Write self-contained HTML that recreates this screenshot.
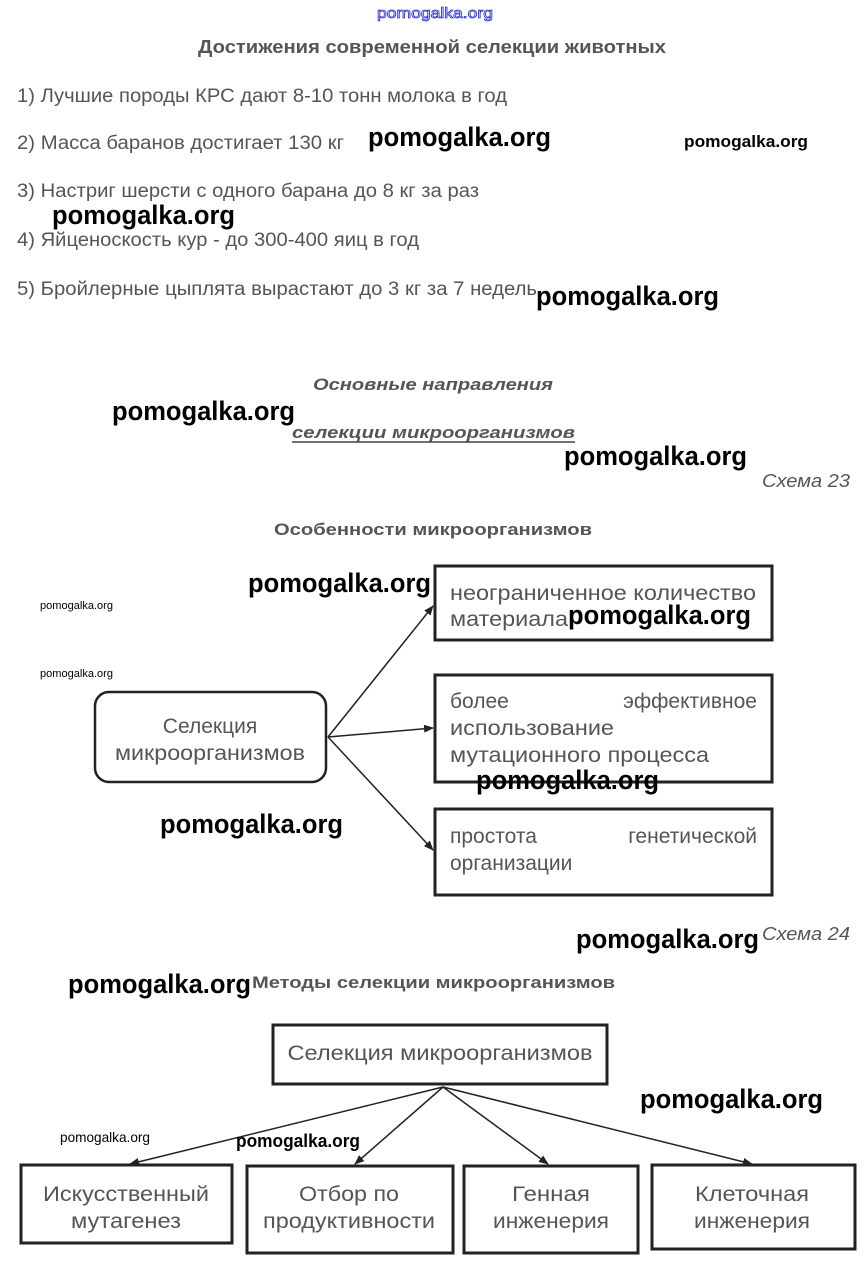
<!DOCTYPE html>
<html><head><meta charset="utf-8"><style>
html,body{margin:0;padding:0;background:#fff;}
svg{display:block;}
.t{font-family:"Liberation Sans",sans-serif;fill:#555;}
.w{font-family:"Liberation Sans",sans-serif;fill:#000;font-weight:bold;}
</style></head><body>
<svg width="866" height="1265" viewBox="0 0 866 1265" xmlns="http://www.w3.org/2000/svg">
<defs><marker id="a" markerWidth="10" markerHeight="10" refX="9" refY="5" orient="auto" markerUnits="userSpaceOnUse"><path d="M0,1 L10,5 L0,9 z" fill="#222"/></marker></defs>
<text x="435" y="18" text-anchor="middle" font-family="Liberation Sans,sans-serif" font-size="15" fill="#fff" stroke="#3333cc" stroke-width="0.8" textLength="116" lengthAdjust="spacingAndGlyphs">pomogalka.org</text>
<text x="432" y="53" text-anchor="middle" class="t" font-size="18" font-weight="bold" fill="#444" textLength="468" lengthAdjust="spacingAndGlyphs">Достижения современной селекции животных</text>
<g class="t" font-size="19">
<text x="17" y="102" textLength="490" lengthAdjust="spacingAndGlyphs">1) Лучшие породы КРС дают 8-10 тонн молока в год</text>
<text x="17" y="149" textLength="327" lengthAdjust="spacingAndGlyphs">2) Масса баранов достигает 130 кг</text>
<text x="17" y="197" textLength="462" lengthAdjust="spacingAndGlyphs">3) Настриг шерсти с одного барана до 8 кг за раз</text>
<text x="17" y="246" textLength="402" lengthAdjust="spacingAndGlyphs">4) Яйценоскость кур - до 300-400 яиц в год</text>
<text x="17" y="295" textLength="520" lengthAdjust="spacingAndGlyphs">5) Бройлерные цыплята вырастают до 3 кг за 7 недель</text>
</g>
<text x="433" y="390" text-anchor="middle" class="t" font-size="17" font-weight="bold" font-style="italic" fill="#444" textLength="240" lengthAdjust="spacingAndGlyphs">Основные направления</text>
<text x="292" y="438" class="t" font-size="17" font-weight="bold" font-style="italic" fill="#444" textLength="283" lengthAdjust="spacingAndGlyphs">селекции микроорганизмов</text>
<line x1="292" y1="442" x2="575" y2="442" stroke="#444" stroke-width="1.5"/>
<text x="762" y="487" class="t" font-size="18" font-style="italic" textLength="88" lengthAdjust="spacingAndGlyphs">Схема 23</text>
<text x="433" y="535" text-anchor="middle" class="t" font-size="17" font-weight="bold" fill="#444" textLength="318" lengthAdjust="spacingAndGlyphs">Особенности микроорганизмов</text>
<g fill="none" stroke="#222" stroke-width="3">
<rect x="435" y="566" width="337" height="74"/>
<rect x="435" y="675" width="337" height="107"/>
<rect x="435" y="809" width="337" height="86"/>
</g>
<rect x="95" y="692" width="231" height="90" rx="14" fill="none" stroke="#222" stroke-width="2.5"/>
<g class="t" font-size="21">
<text x="450" y="600" textLength="306" lengthAdjust="spacingAndGlyphs">неограниченное количество</text>
<text x="450" y="626" textLength="118" lengthAdjust="spacingAndGlyphs">материала</text>
<text x="450" y="708">более</text><text x="757" y="708" text-anchor="end">эффективное</text>
<text x="450" y="735" textLength="164" lengthAdjust="spacingAndGlyphs">использование</text>
<text x="450" y="762" textLength="259" lengthAdjust="spacingAndGlyphs">мутационного процесса</text>
<text x="450" y="843">простота</text><text x="757" y="843" text-anchor="end">генетической</text>
<text x="450" y="870">организации</text>
<text x="210" y="733" text-anchor="middle">Селекция</text>
<text x="210" y="760" text-anchor="middle" textLength="190" lengthAdjust="spacingAndGlyphs">микроорганизмов</text>
</g>
<g stroke="#222" stroke-width="1.5" marker-end="url(#a)">
<line x1="328" y1="737" x2="433" y2="606"/>
<line x1="328" y1="737" x2="433" y2="728"/>
<line x1="328" y1="737" x2="433" y2="850"/>
</g>
<text x="762" y="940" class="t" font-size="18" font-style="italic" textLength="88" lengthAdjust="spacingAndGlyphs">Схема 24</text>
<text x="252" y="988" class="t" font-size="17" font-weight="bold" fill="#444" textLength="363" lengthAdjust="spacingAndGlyphs">Методы селекции микроорганизмов</text>
<g fill="none" stroke="#222" stroke-width="3">
<rect x="273" y="1025" width="334" height="59"/>
<rect x="21" y="1165" width="211" height="78"/>
<rect x="247" y="1166" width="206" height="87"/>
<rect x="464" y="1166" width="174" height="87"/>
<rect x="652" y="1165" width="203" height="84"/>
</g>
<g stroke="#222" stroke-width="1.5" marker-end="url(#a)">
<line x1="443" y1="1087" x2="130" y2="1164"/>
<line x1="443" y1="1087" x2="355" y2="1164"/>
<line x1="443" y1="1087" x2="548" y2="1164"/>
<line x1="443" y1="1087" x2="752" y2="1164"/>
</g>
<g class="t" font-size="21" text-anchor="middle">
<text x="440" y="1060" textLength="305" lengthAdjust="spacingAndGlyphs">Селекция микроорганизмов</text>
<text x="126" y="1201" textLength="166" lengthAdjust="spacingAndGlyphs">Искусственный</text><text x="126" y="1228" textLength="110" lengthAdjust="spacingAndGlyphs">мутагенез</text>
<text x="349" y="1201" textLength="100" lengthAdjust="spacingAndGlyphs">Отбор по</text><text x="349" y="1228" textLength="172" lengthAdjust="spacingAndGlyphs">продуктивности</text>
<text x="551" y="1201" textLength="78" lengthAdjust="spacingAndGlyphs">Генная</text><text x="551" y="1228" textLength="116" lengthAdjust="spacingAndGlyphs">инженерия</text>
<text x="752" y="1201" textLength="114" lengthAdjust="spacingAndGlyphs">Клеточная</text><text x="752" y="1228" textLength="116" lengthAdjust="spacingAndGlyphs">инженерия</text>
</g>
<g class="w" font-size="27">
<text x="368" y="146" textLength="183" lengthAdjust="spacingAndGlyphs">pomogalka.org</text>
<text x="52" y="224" textLength="183" lengthAdjust="spacingAndGlyphs">pomogalka.org</text>
<text x="536" y="305" textLength="183" lengthAdjust="spacingAndGlyphs">pomogalka.org</text>
<text x="112" y="420" textLength="183" lengthAdjust="spacingAndGlyphs">pomogalka.org</text>
<text x="564" y="465" textLength="183" lengthAdjust="spacingAndGlyphs">pomogalka.org</text>
<text x="248" y="592" textLength="183" lengthAdjust="spacingAndGlyphs">pomogalka.org</text>
<text x="568" y="624" textLength="183" lengthAdjust="spacingAndGlyphs">pomogalka.org</text>
<text x="476" y="789" textLength="183" lengthAdjust="spacingAndGlyphs">pomogalka.org</text>
<text x="160" y="833" textLength="183" lengthAdjust="spacingAndGlyphs">pomogalka.org</text>
<text x="576" y="948" textLength="183" lengthAdjust="spacingAndGlyphs">pomogalka.org</text>
<text x="68" y="993" textLength="183" lengthAdjust="spacingAndGlyphs">pomogalka.org</text>
<text x="640" y="1108" textLength="183" lengthAdjust="spacingAndGlyphs">pomogalka.org</text>
</g>
<g class="w">
<text x="684" y="147" font-size="17" textLength="124" lengthAdjust="spacingAndGlyphs">pomogalka.org</text>
<text x="236" y="1147" font-size="18" textLength="124" lengthAdjust="spacingAndGlyphs">pomogalka.org</text>
<text x="60" y="1142" font-size="14" font-weight="normal" textLength="90" lengthAdjust="spacingAndGlyphs">pomogalka.org</text>
<text x="40" y="609" font-size="11" font-weight="normal" textLength="73" lengthAdjust="spacingAndGlyphs">pomogalka.org</text>
<text x="40" y="677" font-size="11" font-weight="normal" textLength="73" lengthAdjust="spacingAndGlyphs">pomogalka.org</text>
</g>
</svg>
</body></html>
